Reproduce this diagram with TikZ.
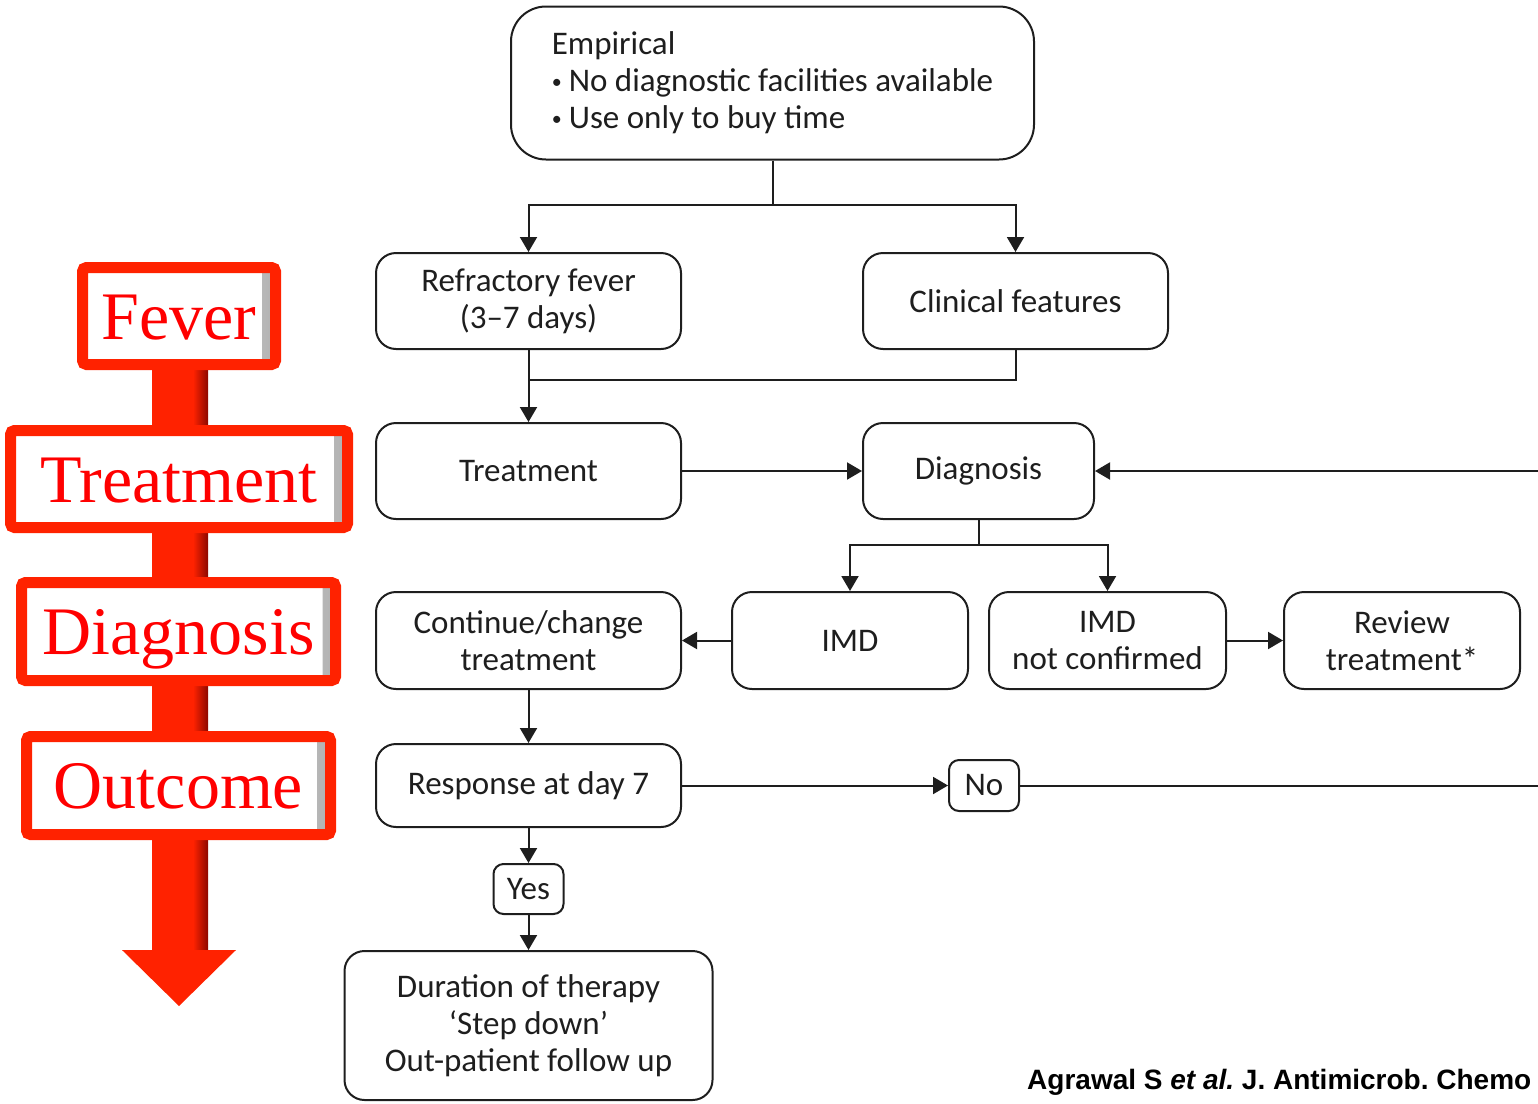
\documentclass[tikz,border=0pt]{standalone}
\usepackage{fontspec}
\setmainfont{Carlito}
\newfontfamily\stagefont{Liberation Serif}
\newfontfamily\citefont{Liberation Sans}
\usetikzlibrary{
  arrows.meta,
  chains,
  scopes,
  positioning
}
\definecolor{stagered}{RGB}{255,34,0}
\definecolor{stagedark}{RGB}{140,8,0}
\definecolor{ink}{RGB}{30,30,30}
\newcommand\itembullet{\raisebox{3.5pt}{\fontsize{20}{20}\selectfont•}\hspace{7pt}}

\begin{document}
\begin{tikzpicture}[
      x=1pt, y=-1pt,
      box/.style={
         rectangle,
         rounded corners=20pt,
         line width=2pt,
         draw=ink,
         fill=white,
         inner sep=0pt,
         align=center,
         text=ink,
         font=\fontsize{33}{37}\selectfont
      },
      small box/.style={
         box,
         rounded corners=10pt
      },
      stage/.style={
         rectangle,
         rounded corners=4pt,
         line width=11pt,
         draw=stagered,
         fill=white,
         inner sep=0pt,
         text=red,
         text height=46pt,
         text depth=0pt,
         font=\stagefont\fontsize{68}{80}\selectfont,
         path picture={\shade[left color=white,right color=black!30]
            ([xshift=-13pt]path picture bounding box.north east) rectangle
            (path picture bounding box.south east);}
      },
      point/.style={coordinate},>={Triangle[length=15pt,width=17pt]},
      tip/.style={->},every join/.style={draw=ink,line width=2pt},
      hv path/.style={to path={-| (\tikztotarget)}},
      vh path/.style={to path={|- (\tikztotarget)}}
    ]
    \path[use as bounding box,clip] (0,0) rectangle (1538,1103);

    % red timeline arrow
    \fill[stagered] (152,330) rectangle (208,952);
    \shade[left color=stagered,right color=stagedark] (193,330) rectangle (208,952);
    \fill[stagered] (122,950) -- (236,950) -- (179,1006) -- cycle;

    \node (sfever) [stage, minimum width=193pt, minimum height=97pt] at (179,316) {Fever};
    \node (streat) [stage, minimum width=337pt, minimum height=97pt] at (179,479) {Treatment};
    \node (sdiag)  [stage, minimum width=314pt, minimum height=98pt] at (178.5,631.5) {Diagnosis};
    \node (sout)   [stage, minimum width=304pt, minimum height=98pt] at (178.5,785.5) {Outcome};

    % flowchart
    \node (empirical) [box, rounded corners=35pt, align=left, minimum width=523pt, minimum height=153pt] at (772.5,83)
       {Empirical\\\itembullet No diagnostic facilities available\\\itembullet Use only to buy time};
    \node (refractory) [box, minimum width=305pt, minimum height=96pt] at (528.5,301) {Refractory fever\\(3–7 days)};
    \node (clinical) [box, minimum width=305pt, minimum height=96pt] at (1015.5,301) {Clinical features};
    \node (treatment) [box, minimum width=305pt, minimum height=96pt] at (528.5,471) {Treatment};
    \node (diagnosis) [box, minimum width=231pt, minimum height=96pt] at (978.5,471) {Diagnosis};
    \node (continue) [box, minimum width=305pt, minimum height=97pt] at (528.5,640.5) {Continue/change\\treatment};
    \node (imd) [box, minimum width=236pt, minimum height=97pt] at (850,640.5) {IMD};
    \node (imdnc) [box, minimum width=237pt, minimum height=97pt] at (1107.5,640.5) {IMD\\not confirmed};
    \node (review) [box, minimum width=236pt, minimum height=97pt] at (1402,640.5) {Review\\treatment*};
    \node (response) [box, minimum width=305pt, minimum height=83pt] at (528.5,785.5) {Response at day 7};
    \node (no) [small box, minimum width=70pt, minimum height=51pt] at (984,785.5) {No};
    \node (yes) [small box, minimum width=70pt, minimum height=50pt] at (528.5,889) {Yes};
    \node (duration) [box, minimum width=368pt, minimum height=149pt] at (528.5,1025.5)
       {Duration of therapy\\‘Step down’\\Out-patient follow up};

    \node (split) [point] at (772.5,205) {};
    \node (merge) [point] at (528.5,380) {};
    \node (fork) [point] at (978.5,545) {};
    \node (loopin) [point] at (1545,471) {};
    \node (loopout) [point] at (1545,785.5) {};

    \node (cite) [anchor=base west, inner sep=0pt, font=\citefont\bfseries\fontsize{28}{32}\selectfont\frenchspacing] at (1027,1089)
       {Agrawal S \textit{et al.} J. Antimicrob. Chemo};

  { [start chain]
       \chainin (empirical);
       \chainin (split)    [join];
  }
  { [start chain]
       \chainin (split);
       \chainin (refractory)    [join=by {hv path,tip}];
  }
  { [start chain]
       \chainin (split);
       \chainin (clinical)    [join=by {hv path,tip}];
  }
  { [start chain]
       \chainin (refractory);
       \chainin (merge)    [join];
  }
  { [start chain]
       \chainin (clinical);
       \chainin (merge)    [join=by vh path];
  }
  { [start chain]
       \chainin (merge);
       \chainin (treatment)    [join=by tip];
  }
  { [start chain]
       \chainin (treatment);
       \chainin (diagnosis)    [join=by tip];
  }
  { [start chain]
       \chainin (loopin);
       \chainin (diagnosis)    [join=by tip];
  }
  { [start chain]
       \chainin (diagnosis);
       \chainin (fork)    [join];
  }
  { [start chain]
       \chainin (fork);
       \chainin (imd)    [join=by {hv path,tip}];
  }
  { [start chain]
       \chainin (fork);
       \chainin (imdnc)    [join=by {hv path,tip}];
  }
  { [start chain]
       \chainin (imd);
       \chainin (continue)    [join=by tip];
  }
  { [start chain]
       \chainin (imdnc);
       \chainin (review)    [join=by tip];
  }
  { [start chain]
       \chainin (continue);
       \chainin (response)    [join=by tip];
  }
  { [start chain]
       \chainin (response);
       \chainin (no)    [join=by tip];
  }
  { [start chain]
       \chainin (no);
       \chainin (loopout)    [join];
  }
  { [start chain]
       \chainin (response);
       \chainin (yes)    [join=by tip];
  }
  { [start chain]
       \chainin (yes);
       \chainin (duration)    [join=by tip];
  }
\end{tikzpicture}
\end{document}
